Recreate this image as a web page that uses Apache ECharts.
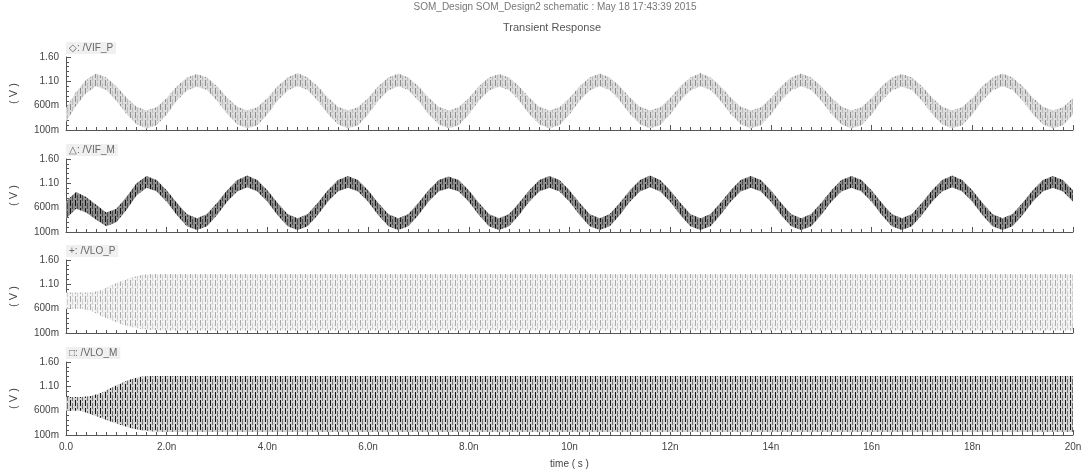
<!DOCTYPE html>
<html>
<head>
<meta charset="utf-8">
<script src="https://cdn.jsdelivr.net/npm/echarts@6/dist/echarts.min.js"></script>
<style>
  html, body { margin: 0; background: #fff; }
  #chart { width: 1087px; height: 475px; }
</style>
</head>
<body>
<div id="chart"></div>
<script>
// time ticks (ns) and their labels
const timeTicks = [0, 2, 4, 6, 8, 10, 12, 14, 16, 18, 20]
const timeTickLabels = ['0.0', '2.0n', '4.0n', '6.0n', '8.0n', '10n', '12n', '14n', '16n', '18n', '20n']
// volt ticks and labels
const voltTicks = [0.1, 0.6, 1.1, 1.6]
const voltTickLabels = ['100m', '600m', '1.10', '1.60']

const signalNames = ['\u25C7: /VIF_P', '\u25B3: /VIF_M', '+: /VLO_P', '\u25A1: /VLO_M']

// IF panels sampled every 0.2 ns (envelope of the LO ripple band, volts)
const ifTimes = [
  0, 0.2, 0.4, 0.6, 0.8, 1, 1.2, 1.4, 1.6, 1.8, 2, 2.2, 2.4, 2.6, 2.8, 3, 3.2, 3.4, 3.6, 3.8,
  4, 4.2, 4.4, 4.6, 4.8, 5, 5.2, 5.4, 5.6, 5.8, 6, 6.2, 6.4, 6.6, 6.8, 7, 7.2, 7.4, 7.6, 7.8,
  8, 8.2, 8.4, 8.6, 8.8, 9, 9.2, 9.4, 9.6, 9.8, 10, 10.2, 10.4, 10.6, 10.8, 11, 11.2, 11.4, 11.6, 11.8,
  12, 12.2, 12.4, 12.6, 12.8, 13, 13.2, 13.4, 13.6, 13.8, 14, 14.2, 14.4, 14.6, 14.8, 15, 15.2, 15.4, 15.6, 15.8,
  16, 16.2, 16.4, 16.6, 16.8, 17, 17.2, 17.4, 17.6, 17.8, 18, 18.2, 18.4, 18.6, 18.8, 19, 19.2, 19.4, 19.6, 19.8,
  20,
]
const vifPUpper = [
  0.55, 0.88, 1.13,
  1.26, 1.18, 1.0, 0.77, 0.58, 0.5, 0.57, 0.76, 1.0, 1.18,
  1.25, 1.18, 1.0, 0.77, 0.58, 0.5, 0.57, 0.76, 1.0, 1.18,
  1.27, 1.18, 1.0, 0.77, 0.58, 0.5, 0.57, 0.76, 1.0, 1.18,
  1.26, 1.18, 1.0, 0.77, 0.58, 0.5, 0.57, 0.76, 1.0, 1.18,
  1.25, 1.18, 1.0, 0.77, 0.58, 0.5, 0.57, 0.76, 1.0, 1.18,
  1.26, 1.18, 1.0, 0.77, 0.58, 0.5, 0.57, 0.76, 1.0, 1.18,
  1.27, 1.18, 1.0, 0.77, 0.58, 0.5, 0.57, 0.76, 1.0, 1.18,
  1.26, 1.18, 1.0, 0.77, 0.58, 0.5, 0.57, 0.76, 1.0, 1.18,
  1.25, 1.18, 1.0, 0.77, 0.58, 0.5, 0.57, 0.76, 1.0, 1.18,
  1.26, 1.18, 1.0, 0.77, 0.58, 0.5, 0.57, 0.76,
]
const vifPLower = [
  0.27, 0.6, 0.86,
  1.0, 0.92, 0.7, 0.43, 0.22, 0.13, 0.2, 0.42, 0.7, 0.91,
  0.99, 0.92, 0.7, 0.43, 0.22, 0.13, 0.2, 0.42, 0.7, 0.91,
  1.0, 0.92, 0.7, 0.43, 0.22, 0.13, 0.2, 0.42, 0.7, 0.91,
  1.0, 0.92, 0.7, 0.43, 0.22, 0.13, 0.2, 0.42, 0.7, 0.91,
  0.99, 0.92, 0.7, 0.43, 0.22, 0.13, 0.2, 0.42, 0.7, 0.91,
  1.0, 0.92, 0.7, 0.43, 0.22, 0.13, 0.2, 0.42, 0.7, 0.91,
  1.0, 0.92, 0.7, 0.43, 0.22, 0.13, 0.2, 0.42, 0.7, 0.91,
  1.0, 0.92, 0.7, 0.43, 0.22, 0.13, 0.2, 0.42, 0.7, 0.91,
  0.99, 0.92, 0.7, 0.43, 0.22, 0.13, 0.2, 0.42, 0.7, 0.91,
  1.0, 0.92, 0.7, 0.43, 0.22, 0.13, 0.2, 0.42,
]
const vifMUpper = [
  0.73, 0.92, 0.82, 0.66, 0.5, 0.58, 0.82, 1.1,
  1.25, 1.17, 0.96, 0.7, 0.47, 0.38, 0.47, 0.7, 0.96, 1.17,
  1.26, 1.17, 0.96, 0.7, 0.47, 0.38, 0.47, 0.7, 0.96, 1.17,
  1.25, 1.17, 0.96, 0.7, 0.47, 0.38, 0.47, 0.7, 0.96, 1.17,
  1.24, 1.17, 0.96, 0.7, 0.47, 0.38, 0.47, 0.7, 0.96, 1.17,
  1.25, 1.17, 0.96, 0.7, 0.47, 0.38, 0.47, 0.7, 0.96, 1.17,
  1.26, 1.17, 0.96, 0.7, 0.47, 0.38, 0.47, 0.7, 0.96, 1.17,
  1.25, 1.17, 0.96, 0.7, 0.47, 0.38, 0.47, 0.7, 0.96, 1.17,
  1.25, 1.17, 0.96, 0.7, 0.47, 0.38, 0.47, 0.7, 0.96, 1.17,
  1.26, 1.17, 0.96, 0.7, 0.47, 0.38, 0.47, 0.7, 0.96, 1.17,
  1.25, 1.17, 0.96,
]
const vifMLower = [
  0.37, 0.58, 0.5, 0.35, 0.22, 0.3, 0.55, 0.85,
  1.01, 0.93, 0.72, 0.45, 0.22, 0.14, 0.22, 0.45, 0.72, 0.93,
  1.02, 0.93, 0.72, 0.45, 0.22, 0.14, 0.22, 0.45, 0.72, 0.93,
  1.01, 0.93, 0.72, 0.45, 0.22, 0.14, 0.22, 0.45, 0.72, 0.93,
  1.0, 0.93, 0.72, 0.45, 0.22, 0.14, 0.22, 0.45, 0.72, 0.93,
  1.01, 0.93, 0.72, 0.45, 0.22, 0.14, 0.22, 0.45, 0.72, 0.93,
  1.02, 0.93, 0.72, 0.45, 0.22, 0.14, 0.22, 0.45, 0.72, 0.93,
  1.01, 0.93, 0.72, 0.45, 0.22, 0.14, 0.22, 0.45, 0.72, 0.93,
  1.01, 0.93, 0.72, 0.45, 0.22, 0.14, 0.22, 0.45, 0.72, 0.93,
  1.02, 0.93, 0.72, 0.45, 0.22, 0.14, 0.22, 0.45, 0.72, 0.93,
  1.01, 0.93, 0.72,
]

// LO panels: envelope of the 10 GHz swing
const loTimes = [0, 0.3, 0.5, 0.7, 0.9, 1.1, 1.3, 1.5, 1.7, 2.0, 20]
const vloPUpper = [0.93, 0.93, 0.93, 0.98, 1.08, 1.17, 1.24, 1.29, 1.31, 1.31, 1.31]
const vloPLower = [0.6, 0.6, 0.55, 0.45, 0.36, 0.28, 0.22, 0.18, 0.16, 0.15, 0.15]
const vloMUpper = [0.88, 0.88, 0.9, 0.97, 1.07, 1.17, 1.25, 1.3, 1.31, 1.31, 1.31]
const vloMLower = [0.6, 0.6, 0.52, 0.45, 0.37, 0.3, 0.24, 0.2, 0.17, 0.16, 0.16]

// 竖纹填充，模拟密集的本振波形
function makePattern(bg, c1, c2) {
  let cv = document.createElement('canvas')
  cv.width = 5
  cv.height = 8
  let ctx = cv.getContext('2d')
  ctx.fillStyle = bg
  ctx.fillRect(0, 0, 5, 8)
  ctx.fillStyle = c1
  ctx.fillRect(0, 0, 1, 6)
  ctx.fillStyle = c2
  ctx.fillRect(2, 3, 1, 5)
  ctx.fillRect(2, 0, 1, 1)
  return { image: cv, repeat: 'repeat' }
}

const panels = [
  { t: ifTimes, up: vifPUpper, lo: vifPLower, fill: makePattern('#dcdcdc', '#8e8e8e', '#bcbcbc') },
  { t: ifTimes, up: vifMUpper, lo: vifMLower, fill: makePattern('#8c8c8c', '#141414', '#4a4a4a') },
  { t: loTimes, up: vloPUpper, lo: vloPLower, fill: makePattern('#f3f3f3', '#acacac', '#cfcfcf') },
  { t: loTimes, up: vloMUpper, lo: vloMLower, fill: makePattern('#d4d4d4', '#141414', '#6e6e6e') },
]
const gridTops = [57, 159, 260, 362]
const gridHeight = 73

const labelFont = 'Liberation Sans'
const axisColor = '#555'

let chart = echarts.init(document.getElementById('chart'), null, { renderer: 'canvas' })

// 包络之间画成多边形带
function bandRenderer(p) {
  return (params, api) => {
    let pts = []
    p.t.forEach((t, k) => pts.push(api.coord([t, p.up[k]])))
    for (let k = p.t.length - 1; k >= 0; k--) pts.push(api.coord([p.t[k], p.lo[k]]))
    return {
      type: 'polygon',
      shape: { points: pts },
      style: { fill: p.fill, stroke: null },
    }
  }
}

let grids = [], xAxes = [], yAxes = [], series = [], texts = []
panels.forEach((p, i) => {
  grids.push({ left: 65, right: 14, top: gridTops[i], height: gridHeight })
  xAxes.push({
    type: 'value', gridIndex: i, min: 0, max: 20, interval: 2,
    axisLine: { lineStyle: { color: axisColor } },
    axisTick: { inside: true, length: 5, lineStyle: { color: axisColor } },
    minorTick: { show: true, splitNumber: 10, length: 3, lineStyle: { color: axisColor } },
    splitLine: { show: false },
    axisLabel: {
      show: i === 3, color: '#444', fontSize: 10, fontFamily: labelFont, margin: 7,
      formatter: (v) => timeTickLabels[timeTicks.indexOf(v)],
    },
    name: i === 3 ? 'time ( s )' : '', nameLocation: 'middle', nameGap: 24,
    nameTextStyle: { color: '#444', fontSize: 10, fontFamily: labelFont },
  })
  yAxes.push({
    type: 'value', gridIndex: i, min: 0.1, max: 1.6, interval: 0.5,
    axisLine: { show: true, lineStyle: { color: axisColor } },
    axisTick: { show: true, inside: true, length: 5, lineStyle: { color: axisColor } },
    minorTick: { show: true, splitNumber: 5, length: 3, lineStyle: { color: axisColor } },
    splitLine: { show: false },
    axisLabel: {
      color: '#444', fontSize: 10, fontFamily: labelFont, margin: 7,
      formatter: (v) => {
        let k = voltTicks.findIndex((x) => Math.abs(x - v) < 1e-6)
        return k < 0 ? '' : voltTickLabels[k]
      },
    },
    name: '( V )', nameLocation: 'middle', nameRotate: 90, nameGap: 47,
    nameTextStyle: { color: '#444', fontSize: 11, fontFamily: labelFont },
  })
  series.push({
    type: 'custom', xAxisIndex: i, yAxisIndex: i, silent: true,
    renderItem: bandRenderer(p),
    data: [[p.t[0], p.lo[0]]],
  })
  texts.push({
    type: 'text', left: 66, top: gridTops[i] - 15,
    style: {
      text: signalNames[i], fill: '#666', font: '10px ' + labelFont,
      backgroundColor: '#f0f0f0', padding: [1, 3],
    },
  })
})

texts.push({
  type: 'text', x: 555, y: 2,
  style: {
    text: 'SOM_Design SOM_Design2 schematic : May 18 17:43:39 2015',
    fill: '#777', font: '10px ' + labelFont, textAlign: 'center',
  },
})
texts.push({
  type: 'text', x: 552, y: 22,
  style: { text: 'Transient Response', fill: '#555', font: '11px ' + labelFont, textAlign: 'center' },
})

chart.setOption({
  animation: false,
  backgroundColor: '#fff',
  grid: grids,
  xAxis: xAxes,
  yAxis: yAxes,
  series: series,
  graphic: texts,
})
</script>
</body>
</html>
